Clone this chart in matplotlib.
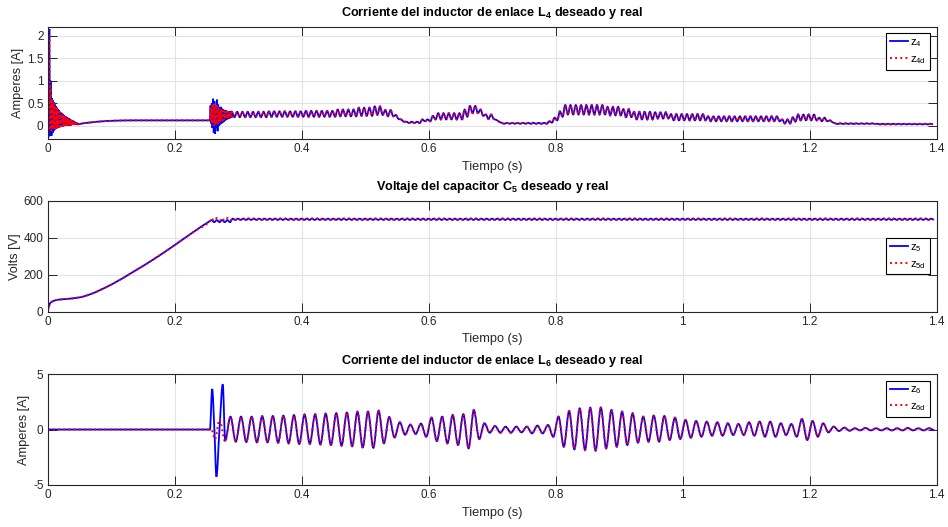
import numpy as np
import matplotlib
matplotlib.use('Agg')
import matplotlib.pyplot as plt
from matplotlib.path import Path
from matplotlib.patches import PathPatch
from matplotlib.lines import Line2D

plt.rcParams['font.family'] = 'Liberation Sans'
plt.rcParams['mathtext.fontset'] = 'custom'
plt.rcParams['mathtext.rm'] = 'Liberation Sans'
plt.rcParams['mathtext.it'] = 'Liberation Sans:italic'
plt.rcParams['mathtext.bf'] = 'Liberation Sans:bold'

# ---------------- datos ----------------
# z4: arranque (puntos sueltos)
z4_t_ini = [0.0, 0.0012, 0.0026, 0.0036, 0.0044]
z4_v_ini = [0.0, -0.25, 2.15, -0.22, 1.0]
z4d_v_ini = [0.0, -0.10, 2.0, -0.10, 0.9]
# z4: oscilacion amortiguada inicial (un valor por ciclo)
z4_t0_amort = 0.0052
z4_per_amort = 0.0016
z4_hi_amort = [0.66, 0.61, 0.56, 0.52, 0.47, 0.43, 0.40, 0.37, 0.34, 0.31,
               0.29, 0.27, 0.25, 0.23, 0.21, 0.20, 0.19, 0.17, 0.16, 0.14,
               0.13, 0.12, 0.11, 0.10, 0.08, 0.07, 0.06]
z4_lo_amort = [-0.22, -0.16, -0.12, -0.09, -0.07, -0.06, -0.05, -0.04, -0.03, -0.02,
               -0.02, -0.01, -0.01, 0.0, 0.0, 0.0, 0.01, 0.01, 0.01, 0.01,
               0.02, 0.02, 0.02, 0.02, 0.02, 0.03, 0.03]
z4d_hi_amort = [0.64, 0.60, 0.55, 0.51, 0.46, 0.42, 0.39, 0.36, 0.33, 0.30,
                0.28, 0.26, 0.24, 0.22, 0.21, 0.19, 0.18, 0.17, 0.15, 0.14,
                0.13, 0.12, 0.10, 0.09, 0.08, 0.07, 0.06]
z4d_lo_amort = [-0.12, -0.10, -0.08, -0.07, -0.06, -0.05, -0.04, -0.03, -0.03, -0.02,
                -0.02, -0.01, -0.01, 0.0, 0.0, 0.0, 0.01, 0.01, 0.01, 0.01,
                0.02, 0.02, 0.02, 0.02, 0.02, 0.03, 0.03]
# z4: tramo lento
z4_t_lento = [0.050, 0.065, 0.083, 0.10, 0.135, 0.2555]
z4_v_lento = [0.04, 0.07, 0.096, 0.11, 0.12, 0.12]
# z4: transitorio en t = 0.256 s
z4_t0_trans = 0.2565
z4_per_trans = 0.002
z4_hi_trans = [0.45, 0.50, 0.60, 0.55, 0.42, 0.58, 0.47, 0.40, 0.42, 0.38,
               0.36, 0.35, 0.34, 0.33, 0.32, 0.32, 0.31]
z4_lo_trans = [0.05, -0.05, -0.15, -0.18, -0.05, -0.12, 0.0, 0.03, 0.05, 0.07,
               0.09, 0.11, 0.13, 0.15, 0.16, 0.17, 0.18]
z4d_hi_trans = [0.40, 0.45, 0.50, 0.48, 0.42, 0.45, 0.42, 0.38, 0.37, 0.35,
                0.34, 0.33, 0.33, 0.32, 0.32, 0.31, 0.31]
z4d_lo_trans = [0.08, 0.03, 0.0, 0.0, 0.04, 0.02, 0.06, 0.08, 0.10, 0.11,
                0.12, 0.14, 0.15, 0.16, 0.17, 0.18, 0.19]
# z4: rizado de 120 Hz, envolvente por tramos (inicio de tramo, max, min)
z4_t0_riz = 0.29
z4_f_riz = 120.0
z4_n_riz = 133
z4_seg_t = [0.29, 0.34, 0.40, 0.45, 0.49, 0.51, 0.53, 0.545, 0.555, 0.565,
            0.59, 0.60, 0.61, 0.655, 0.665, 0.68, 0.69, 0.70, 0.71, 0.785,
            0.795, 0.805, 0.815, 0.88, 0.90, 0.92, 0.95, 0.98, 1.04, 1.155,
            1.17, 1.18, 1.215, 1.225, 1.235, 1.30]
z4_seg_hi = [0.31, 0.32, 0.33, 0.36, 0.40, 0.43, 0.35, 0.24, 0.14, 0.09,
             0.14, 0.22, 0.28, 0.36, 0.44, 0.36, 0.25, 0.13, 0.065, 0.10,
             0.18, 0.32, 0.46, 0.42, 0.37, 0.31, 0.30, 0.26, 0.21, 0.14,
             0.19, 0.25, 0.18, 0.12, 0.055, 0.045]
z4_seg_lo = [0.19, 0.20, 0.20, 0.21, 0.22, 0.24, 0.21, 0.15, 0.09, 0.06,
             0.10, 0.14, 0.14, 0.20, 0.28, 0.22, 0.15, 0.09, 0.045, 0.07,
             0.12, 0.20, 0.25, 0.23, 0.19, 0.14, 0.16, 0.12, 0.10, 0.05,
             0.09, 0.12, 0.10, 0.08, 0.04, 0.03]

# z5: carga del capacitor
z5_t_carga = [0.0, 0.0036, 0.009, 0.0168, 0.03, 0.051, 0.0668, 0.0826, 0.1036,
              0.135, 0.1667, 0.20, 0.23, 0.2555]
z5_v_carga = [0, 45, 58, 65, 69, 78, 94, 117, 153, 216, 283, 360, 432, 490]
# z5: rizado alrededor de 500 V
z5_t0_riz = 0.258
z5_n_riz = 137
z5_seg_t = [0.258, 0.29]
z5_seg_hi = [495, 503]
z5_seg_lo = [484, 496]
z5d_seg_hi = [506, 504]
z5d_seg_lo = [492, 497]

# z6: transitorio en t = 0.256 s
z6_t_trans = [0.0, 0.2555, 0.259, 0.2625, 0.2657, 0.2705, 0.2757, 0.2795]
z6_v_trans = [0.0, 0.0, 3.65, 0.0, -4.25, 0.0, 4.07, -1.0]
z6d_t_trans = [0.0, 0.258, 0.2635, 0.2705, 0.2795]
z6d_v_trans = [0.0, 0.0, -0.9, 0.92, -1.1]
# z6: oscilacion de 60 Hz, maximo y minimo de cada ciclo
z6_t0 = 0.2878
z6_f = 60.0
z6_max = [1.16, 1.16, 1.16, 1.20, 1.22, 1.25, 1.30, 1.35, 1.37, 1.43,
          1.47, 1.53, 1.60, 1.62, 1.70, 1.13, 0.65, 0.44, 0.53, 1.07,
          1.16, 1.31, 1.37, 1.76, 0.56, 0.32, 0.26, 0.26, 0.26, 0.35,
          0.41, 1.16, 1.67, 1.91, 1.97, 1.97, 1.76, 1.61, 1.46, 1.16,
          1.25, 1.22, 1.07, 0.86, 0.77, 0.71, 0.65, 0.56, 0.50, 0.65,
          0.71, 0.71, 0.56, 0.50, 0.95, 0.77, 0.56, 0.26, 0.17, 0.11,
          0.14, 0.11, 0.11, 0.11, 0.14, 0.11, 0.11]
z6_min = [-1.10, -1.13, -1.16, -1.16, -1.19, -1.25, -1.31, -1.30, -1.35, -1.40,
          -1.46, -1.52, -1.62, -1.65, -1.25, -0.72, -0.47, -0.40, -0.65, -1.05,
          -1.25, -1.40, -1.70, -0.86, -0.29, -0.29, -0.29, -0.26, -0.35, -0.35,
          -0.65, -1.55, -1.79, -1.85, -1.91, -1.70, -1.55, -1.40, -1.19, -1.10,
          -1.10, -0.95, -0.86, -0.74, -0.65, -0.56, -0.56, -0.50, -0.50, -0.56,
          -0.65, -0.65, -0.50, -0.65, -0.95, -0.65, -0.26, -0.14, -0.11, -0.08,
          -0.08, -0.08, -0.08, -0.08, -0.08, -0.08, -0.08]

x_ticks = [0, 0.2, 0.4, 0.6, 0.8, 1.0, 1.2, 1.4]
x_ticklabels = ['0', '0.2', '0.4', '0.6', '0.8', '1', '1.2', '1.4']


# ---------------- utilidades ----------------
def oscila(t_hi, hi, lo, per):
    # alterna maximos y minimos leidos, medio periodo entre cada uno
    t_hi = np.asarray(t_hi, dtype=float)
    t = np.empty(2 * len(t_hi))
    v = np.empty(2 * len(t_hi))
    t[0::2] = t_hi
    t[1::2] = t_hi + per / 2
    v[0::2] = hi
    v[1::2] = lo
    return t, v


def por_tramos(seg_t, seg_v, t):
    idx = np.searchsorted(seg_t, t, side='right') - 1
    return np.asarray(seg_v, dtype=float)[idx]


def curva(ax, t, v, **kw):
    # trazo suave que pasa por los puntos (Bezier cubica con pendientes
    # tipo pchip: horizontales en los extremos, sin sobrepasos)
    t = np.asarray(t, dtype=float)
    v = np.asarray(v, dtype=float)
    h = np.diff(t)
    d = np.diff(v) / h
    m = np.zeros_like(v)
    m[0], m[-1] = d[0], d[-1]
    a, b = d[:-1], d[1:]
    h0, h1 = h[:-1], h[1:]
    ok = a * b > 0
    w1 = 2 * h1 + h0
    w2 = h1 + 2 * h0
    m[1:-1][ok] = (w1[ok] + w2[ok]) / (w1[ok] / a[ok] + w2[ok] / b[ok])
    c1 = np.column_stack([t[:-1] + h / 3, v[:-1] + m[:-1] * h / 3])
    c2 = np.column_stack([t[1:] - h / 3, v[1:] - m[1:] * h / 3])
    p2 = np.column_stack([t[1:], v[1:]])
    seg = np.stack([c1, c2, p2], axis=1).reshape(-1, 2)
    verts = np.vstack([[t[0], v[0]], seg])
    codes = [Path.MOVETO] + [Path.CURVE4] * len(seg)
    ax.add_patch(PathPatch(Path(verts, codes), fill=False, **kw))


# ---------------- construir las curvas ----------------
tka = z4_t0_amort + z4_per_amort * np.arange(len(z4_hi_amort))
ta, va = oscila(tka, z4_hi_amort, z4_lo_amort, z4_per_amort)
_, vda = oscila(tka, z4d_hi_amort, z4d_lo_amort, z4_per_amort)
tkt = z4_t0_trans + z4_per_trans * np.arange(len(z4_hi_trans))
tt, vt = oscila(tkt, z4_hi_trans, z4_lo_trans, z4_per_trans)
_, vdt = oscila(tkt, z4d_hi_trans, z4d_lo_trans, z4_per_trans)
tk = z4_t0_riz + np.arange(z4_n_riz) / z4_f_riz
tr, vr = oscila(tk, por_tramos(z4_seg_t, z4_seg_hi, tk),
                por_tramos(z4_seg_t, z4_seg_lo, tk), 1 / z4_f_riz)

z4_t = np.concatenate([z4_t_ini, ta, z4_t_lento, tt, tr])
z4 = np.concatenate([z4_v_ini, va, z4_v_lento, vt, vr])
z4d = np.concatenate([z4d_v_ini, vda, z4_v_lento, vdt, vr])

tk5 = z5_t0_riz + np.arange(z5_n_riz) / z4_f_riz
t5r, v5r = oscila(tk5, por_tramos(z5_seg_t, z5_seg_hi, tk5),
                  por_tramos(z5_seg_t, z5_seg_lo, tk5), 1 / z4_f_riz)
_, v5dr = oscila(tk5, por_tramos(z5_seg_t, z5d_seg_hi, tk5),
                 por_tramos(z5_seg_t, z5d_seg_lo, tk5), 1 / z4_f_riz)
z5_t = np.concatenate([z5_t_carga, t5r])
z5 = np.concatenate([z5_v_carga, v5r])
z5d = np.concatenate([z5_v_carga, v5dr])

tk6 = z6_t0 + np.arange(len(z6_max)) / z6_f
t6o, v6o = oscila(tk6, z6_max, z6_min, 1 / z6_f)
z6_t = np.concatenate([z6_t_trans, t6o])
z6 = np.concatenate([z6_v_trans, v6o])
z6d_t = np.concatenate([z6d_t_trans, t6o])
z6d = np.concatenate([z6d_v_trans, v6o])

# ---------------- figura ----------------
fig = plt.figure(figsize=(9.48, 5.27), dpi=100)
izq, ancho = 0.0503, 0.9378
ax1 = fig.add_axes([izq, 0.7357, ancho, 0.2136])
ax2 = fig.add_axes([izq, 0.4085, ancho, 0.2107])
ax3 = fig.add_axes([izq, 0.0797, ancho, 0.2106])

gris = '#262626'
paneles = [
    (ax1, z4_t, z4, z4_t, z4d, 'z$_{\\mathrm{4}}$', 'z$_{\\mathrm{4d}}$',
     'Corriente del inductor de enlace L$_{\\mathbf{4}}$ deseado y real',
     'Amperes [A]', (-0.3, 2.2), [0, 0.5, 1, 1.5, 2], ['0', '0.5', '1', '1.5', '2'],
     'upper right'),
    (ax2, z5_t, z5, z5_t, z5d, 'z$_{\\mathrm{5}}$', 'z$_{\\mathrm{5d}}$',
     'Voltaje del capacitor C$_{\\mathbf{5}}$ deseado y real',
     'Volts [V]', (0, 600), [0, 200, 400, 600], ['0', '200', '400', '600'],
     'center right'),
    (ax3, z6_t, z6, z6d_t, z6d, 'z$_{\\mathrm{6}}$', 'z$_{\\mathrm{6d}}$',
     'Corriente del inductor de enlace L$_{\\mathbf{6}}$ deseado y real',
     'Amperes [A]', (-5, 5), [-5, 0, 5], ['-5', '0', '5'],
     'upper right'),
]

for (ax, t, v, td, vd, lab, labd, titulo, ylab, ylim, yt, ytl, loc) in paneles:
    estilo = dict(color='blue', lw=1.3, ls='-')
    estilo_d = dict(color='red', lw=1.4, ls=':')
    curva(ax, t, v, edgecolor=estilo['color'], linewidth=estilo['lw'],
          linestyle=estilo['ls'])
    curva(ax, td, vd, edgecolor=estilo_d['color'], linewidth=estilo_d['lw'],
          linestyle=estilo_d['ls'])
    ax.set_xlim(0, 1.4)
    ax.set_ylim(*ylim)
    ax.set_xticks(x_ticks)
    ax.set_xticklabels(x_ticklabels)
    ax.set_yticks(yt)
    ax.set_yticklabels(ytl)
    ax.grid(True, color='#e3e3e3', lw=0.8)
    ax.set_axisbelow(True)
    ax.tick_params(direction='in', length=6.5, width=0.7, top=True, right=True,
                   labelsize=8.5, colors=gris, pad=3)
    for s in ax.spines.values():
        s.set_color(gris)
        s.set_linewidth(0.8)
    ax.set_title(titulo, fontsize=9.1, fontweight='bold', pad=7.5)
    ax.set_xlabel('Tiempo (s)', fontsize=9.2, color=gris, labelpad=4)
    ax.set_ylabel(ylab, fontsize=9.2, color=gris, labelpad=2)
    manejadores = [Line2D([], [], **estilo), Line2D([], [], **estilo_d)]
    leg = ax.legend(manejadores, [lab, labd], loc=loc, fontsize=8,
                    frameon=True, fancybox=False, framealpha=1,
                    edgecolor='black', handlelength=1.6, handletextpad=0.2,
                    borderpad=0.35, labelspacing=0.45, borderaxespad=0.6)
    leg.get_frame().set_linewidth(0.8)

fig.savefig('out.png', dpi=100)
